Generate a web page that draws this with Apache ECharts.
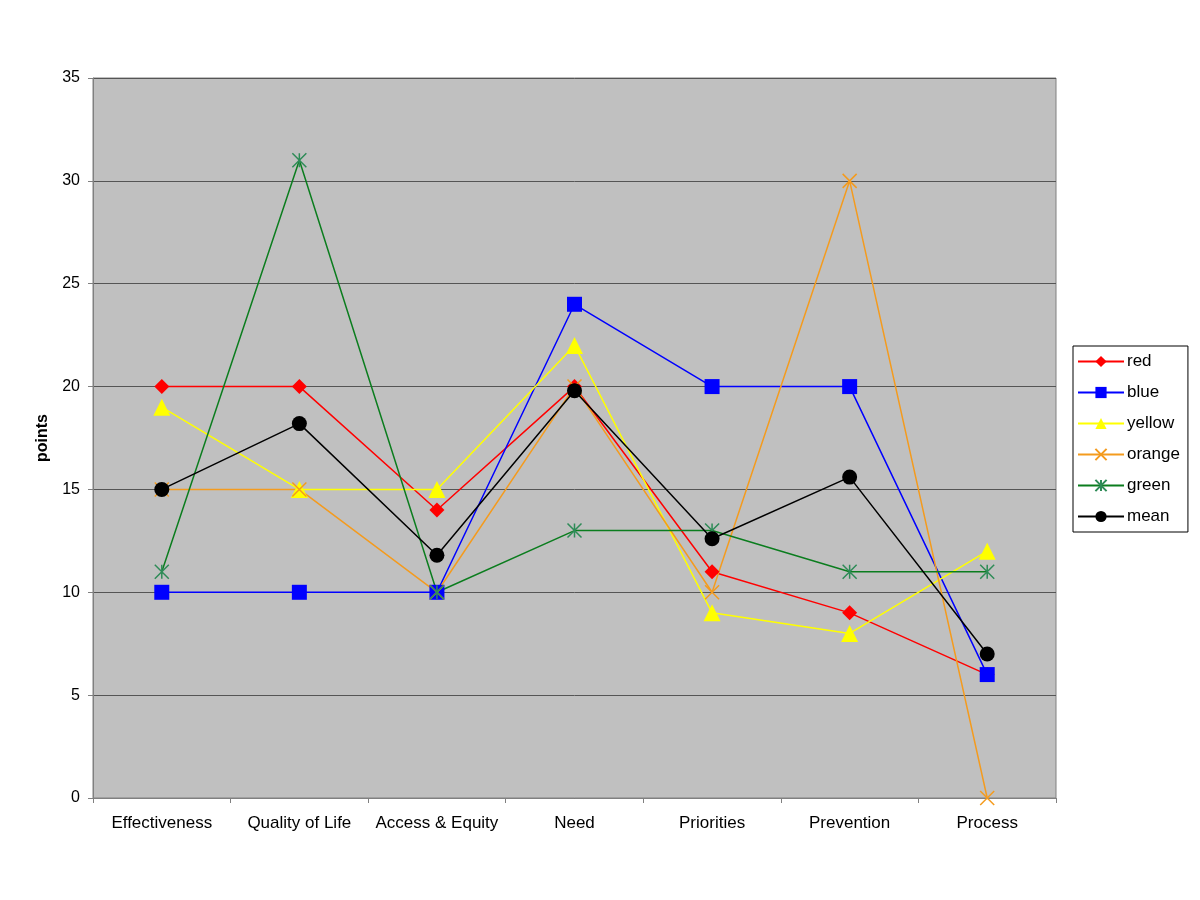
<!DOCTYPE html>
<html><head><meta charset="utf-8">
<script src="https://cdn.jsdelivr.net/npm/echarts@6/dist/echarts.min.js"></script>
<style>html,body{margin:0;padding:0;background:#fff}#c{width:1200px;height:900px}</style>
</head><body><div id="c"></div>
<script>
const categories = ['Effectiveness','Quality of Life','Access & Equity','Need','Priorities','Prevention','Process'];
const redVals    = [20, 20, 14, 20, 11, 9, 6];
const blueVals   = [10, 10, 10, 24, 20, 20, 6];
const yellowVals = [19, 15, 15, 22, 9, 8, 12];
const orangeVals = [15, 15, 10, 20, 10, 30, 0];
const greenVals  = [11, 31, 10, 13, 13, 11, 11];
const meanVals   = [15, 18.2, 11.8, 19.8, 12.6, 15.6, 7];
const seriesNames = ['red','blue','yellow','orange','green','mean'];

const chart = echarts.init(document.getElementById('c'));
const font = 'Liberation Sans, Arial, sans-serif';
function mk(name, data, color, symbol, size, extra) {
  return Object.assign({
    name, type: 'line', data, symbol, symbolSize: size,
    lineStyle: { color, width: 1.5 },
    itemStyle: { color },
    emphasis: { disabled: true },
    animation: false
  }, extra || {});
}
const xPath = 'path://M0,0L10,10M10,0L0,10';
const starPath = 'path://M5,0L5,10M0,0L10,10M10,0L0,10';
chart.setOption({
  backgroundColor: '#ffffff',
  textStyle: { fontFamily: font },
  grid: { left: 93, right: 144, top: 78, bottom: 102, show: true, backgroundColor: '#c0c0c0', borderColor: '#808080', borderWidth: 1 },
  legend: {
    orient: 'vertical', left: 1073, top: 346,
    backgroundColor: '#ffffff', borderColor: '#000', borderWidth: 1,
    padding: [7, 8, 7, 4],
    itemWidth: 46, itemHeight: 14, itemGap: 14,
    textStyle: { fontSize: 17, color: '#000', fontFamily: font, padding: [0,0,0,-2] },
    data: seriesNames
  },
  xAxis: {
    type: 'category', data: categories, boundaryGap: true,
    axisLine: { lineStyle: { color: '#808080', width: 1 } },
    axisTick: { show: true, inside: false, length: 5, lineStyle: { color: '#808080' } },
    axisLabel: { color: '#000', fontSize: 17, margin: 17, fontFamily: font, interval: 0 },
    splitLine: { show: false }
  },
  yAxis: {
    type: 'value', min: 0, max: 35, interval: 5,
    name: 'points', nameLocation: 'middle', nameGap: 42, nameRotate: 90,
    nameTextStyle: { fontSize: 16, fontWeight: 'bold', color: '#000', fontFamily: font },
    axisLine: { show: true, lineStyle: { color: '#808080', width: 1 } },
    axisTick: { show: true, inside: false, length: 5, lineStyle: { color: '#808080' } },
    axisLabel: { color: '#000', fontSize: 16, margin: 13, fontFamily: font },
    splitLine: { show: true, lineStyle: { color: '#555555', width: 1 } }
  },
  series: [
    mk('red', redVals, '#ff0000', 'diamond', 15),
    mk('blue', blueVals, '#0000ff', 'rect', 15),
    mk('yellow', yellowVals, '#ffff00', 'triangle', 17),
    mk('orange', orangeVals, '#f49b1e', xPath, 14, { itemStyle: { color: 'none', borderColor: '#f49b1e', borderWidth: 1.5 } }),
    mk('green', greenVals, '#0b7d1e', starPath, 14, { itemStyle: { color: 'none', borderColor: '#2e8b57', borderWidth: 1.5 } }),
    mk('mean', meanVals, '#000000', 'circle', 15)
  ]
});
</script></body></html>
